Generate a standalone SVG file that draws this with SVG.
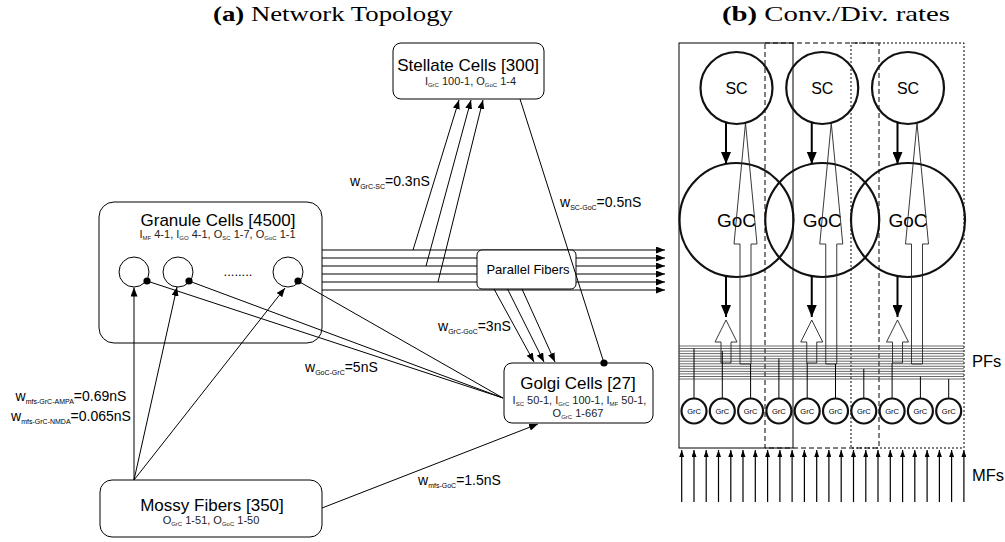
<svg xmlns="http://www.w3.org/2000/svg" width="1005" height="542" viewBox="0 0 1005 542">
  <style>
    text { font-family: "Liberation Sans", Arial, Helvetica, sans-serif; fill: #000; }
    .cap { font-family: "Liberation Serif", "Times New Roman", serif; font-size: 21px; text-anchor: middle; }
    .box { fill: #fff; stroke: #000; stroke-width: 1; }
    .ttl { font-size: 17px; text-anchor: middle; }
    .st { font-size: 11px; text-anchor: middle; fill: #222; }
    .s6 { font-size: 6px; }
    .lbl { font-size: 14px; }
    .s7 { font-size: 7px; }
    .ln { stroke: #000; stroke-width: 1; fill: none; }
    .cell { fill: none; stroke: #111; stroke-width: 2.2; }
    .grc { fill: #fff; stroke: #111; stroke-width: 2.2; }
    .ring { fill: none; stroke: #000; stroke-width: 1; }
    .frame { fill: none; stroke: #000; stroke-width: 1; }
    .pf { stroke: #444; stroke-width: 0.8; }
    .thin { fill: none; stroke: #222; stroke-width: 0.9; }
    .bold { stroke: #000; stroke-width: 2; }
    .mf { stroke: #000; stroke-width: 1.2; }
  </style>
  <defs>
    <marker id="ah" viewBox="0 0 9 7" refX="9" refY="3.5" markerWidth="9" markerHeight="7" markerUnits="userSpaceOnUse" orient="auto">
      <path d="M0,0L9,3.5L0,7z" fill="#000"/>
    </marker>
    <marker id="dot" viewBox="0 0 8 8" refX="4" refY="4" markerWidth="8" markerHeight="8" markerUnits="userSpaceOnUse">
      <circle cx="4" cy="4" r="3.6" fill="#000"/>
    </marker>
    <marker id="hb" viewBox="0 0 12 10" refX="12" refY="5" markerWidth="12" markerHeight="10" markerUnits="userSpaceOnUse" orient="auto">
      <path d="M0,0L12,5L0,10z" fill="#000"/>
    </marker>
    <marker id="hs" viewBox="0 0 7 5" refX="7" refY="2.5" markerWidth="7" markerHeight="5" markerUnits="userSpaceOnUse" orient="auto">
      <path d="M0,0L7,2.5L0,5z" fill="#000"/>
    </marker>
  </defs>

  <!-- captions -->
  <text class="cap" x="333" y="21" textLength="240" lengthAdjust="spacingAndGlyphs"><tspan font-weight="bold">(a)</tspan> Network Topology</text>
  <text class="cap" x="836" y="21" textLength="228" lengthAdjust="spacingAndGlyphs"><tspan font-weight="bold">(b)</tspan> Conv./Div. rates</text>

  <!-- ===== (a) network topology ===== -->
  <g id="stellate-cells">
    <rect class="box" x="393" y="43" width="151" height="56" rx="8"/>
    <text class="ttl" x="468" y="70.5">Stellate Cells [300]</text>
    <text class="st" x="470.5" y="85">I<tspan class="s6" dy="2">GrC</tspan><tspan dy="-2"> 100-1, O</tspan><tspan class="s6" dy="2">GoC</tspan><tspan dy="-2"> 1-4</tspan></text>
  </g>

  <g id="granule-cells">
    <rect class="box" x="99" y="202" width="223" height="141" rx="15"/>
    <text class="ttl" x="218" y="226">Granule Cells [4500]</text>
    <text class="st" x="217.5" y="238">I<tspan class="s6" dy="2">MF</tspan><tspan dy="-2"> 4-1, I</tspan><tspan class="s6" dy="2">GO</tspan><tspan dy="-2"> 4-1, O</tspan><tspan class="s6" dy="2">SC</tspan><tspan dy="-2"> 1-7, O</tspan><tspan class="s6" dy="2">GoC</tspan><tspan dy="-2"> 1-1</tspan></text>
    <circle class="ring" cx="134" cy="272" r="15"/>
    <circle class="ring" cx="178" cy="272" r="15"/>
    <circle class="ring" cx="288" cy="272" r="15"/>
    <text x="238" y="276" font-size="13" text-anchor="middle">........</text>
  </g>

  <g id="golgi-cells">
    <rect class="box" x="504" y="363" width="149" height="60" rx="8"/>
    <text class="ttl" x="578" y="389">Golgi Cells [27]</text>
    <text class="st" x="579.5" y="404">I<tspan class="s6" dy="2">SC</tspan><tspan dy="-2"> 50-1, I</tspan><tspan class="s6" dy="2">GrC</tspan><tspan dy="-2"> 100-1, I</tspan><tspan class="s6" dy="2">MF</tspan><tspan dy="-2"> 50-1,</tspan></text>
    <text class="st" x="578" y="417">O<tspan class="s6" dy="2">GrC</tspan><tspan dy="-2"> 1-667</tspan></text>
  </g>

  <g id="mossy-fibers">
    <rect class="box" x="100" y="480" width="222" height="57" rx="12"/>
    <text class="ttl" x="212" y="511">Mossy Fibers [350]</text>
    <text class="st" x="211" y="524">O<tspan class="s6" dy="2">GrC</tspan><tspan dy="-2"> 1-51, O</tspan><tspan class="s6" dy="2">GoC</tspan><tspan dy="-2"> 1-50</tspan></text>
  </g>

  <g id="parallel-fibers">
    <g class="ln" marker-end="url(#ah)">
      <line x1="322" y1="250" x2="665" y2="250"/>
      <line x1="322" y1="258" x2="665" y2="258"/>
      <line x1="322" y1="266" x2="665" y2="266"/>
      <line x1="322" y1="274" x2="665" y2="274"/>
      <line x1="322" y1="282" x2="665" y2="282"/>
      <line x1="322" y1="290" x2="665" y2="290"/>
    </g>
    <rect class="box" x="477" y="250" width="99" height="39" rx="5"/>
    <text x="528" y="273.5" font-size="13" text-anchor="middle">Parallel Fibers</text>
  </g>

  <g id="connectors">
    <!-- mossy fibres to granule cells and Golgi cells -->
    <line class="ln" x1="134" y1="480" x2="134" y2="287.5" marker-end="url(#ah)"/>
    <line class="ln" x1="134" y1="480" x2="177" y2="287" marker-end="url(#ah)"/>
    <line class="ln" x1="134" y1="480" x2="285" y2="288" marker-end="url(#ah)"/>
    <line class="ln" x1="322" y1="508" x2="538" y2="424" marker-end="url(#ah)"/>
    <!-- Golgi inhibition of granule cells -->
    <line class="ln" x1="503" y1="398" x2="147" y2="281" marker-end="url(#dot)"/>
    <line class="ln" x1="503" y1="398" x2="189" y2="281" marker-end="url(#dot)"/>
    <line class="ln" x1="503" y1="398" x2="298" y2="281" marker-end="url(#dot)"/>
    <!-- parallel fibres to stellate cells -->
    <line class="ln" x1="413" y1="250" x2="459" y2="100" marker-end="url(#ah)"/>
    <line class="ln" x1="426" y1="266" x2="471" y2="100" marker-end="url(#ah)"/>
    <line class="ln" x1="438" y1="282" x2="483" y2="100" marker-end="url(#ah)"/>
    <!-- parallel fibres to Golgi cells -->
    <line class="ln" x1="494" y1="289" x2="534" y2="362" marker-end="url(#ah)"/>
    <line class="ln" x1="507.5" y1="289" x2="544" y2="362" marker-end="url(#ah)"/>
    <line class="ln" x1="522" y1="289" x2="555" y2="362" marker-end="url(#ah)"/>
    <!-- stellate inhibition of Golgi cells -->
    <line class="ln" x1="520" y1="99" x2="604" y2="363" marker-end="url(#dot)"/>
  </g>

  <g id="weights">
    <text class="lbl" x="350" y="186">w<tspan class="s7" dy="2.5">GrC-SC</tspan><tspan dy="-2.5">=0.3nS</tspan></text>
    <text class="lbl" x="560" y="207">w<tspan class="s7" dy="2.5">SC-GoC</tspan><tspan dy="-2.5">=0.5nS</tspan></text>
    <text class="lbl" x="438" y="331">w<tspan class="s7" dy="2.5">GrC-GoC</tspan><tspan dy="-2.5">=3nS</tspan></text>
    <text class="lbl" x="305" y="372">w<tspan class="s7" dy="2.5">GoC-GrC</tspan><tspan dy="-2.5">=5nS</tspan></text>
    <text class="lbl" x="418" y="485">w<tspan class="s7" dy="2.5">mfs-GoC</tspan><tspan dy="-2.5">=1.5nS</tspan></text>
    <text class="lbl" x="71" y="401" text-anchor="middle">w<tspan class="s7" dy="2.5">mfs-GrC-AMPA</tspan><tspan dy="-2.5">=0.69nS</tspan></text>
    <text class="lbl" x="71" y="421" text-anchor="middle">w<tspan class="s7" dy="2.5">mfs-GrC-NMDA</tspan><tspan dy="-2.5">=0.065nS</tspan></text>
  </g>

  <!-- ===== (b) convergence / divergence ===== -->
  <g id="module-frames">
    <rect class="frame" x="679" y="43" width="114" height="405"/>
    <rect class="frame" x="765" y="43" width="114" height="405" stroke-dasharray="5 3"/>
    <rect class="frame" x="851" y="43" width="113" height="405" stroke-dasharray="2 2"/>
  </g>

  <g id="pf-bundle" class="pf">
    <line x1="679" y1="346" x2="964" y2="346"/>
    <line x1="679" y1="348.5" x2="964" y2="348.5"/>
    <line x1="679" y1="351.1" x2="964" y2="351.1"/>
    <line x1="679" y1="353.6" x2="964" y2="353.6"/>
    <line x1="679" y1="356.2" x2="964" y2="356.2"/>
    <line x1="679" y1="358.7" x2="964" y2="358.7"/>
    <line x1="679" y1="361.2" x2="964" y2="361.2"/>
    <line x1="679" y1="363.8" x2="964" y2="363.8"/>
    <line x1="679" y1="366.3" x2="964" y2="366.3"/>
    <line x1="679" y1="368.8" x2="964" y2="368.8"/>
    <line x1="679" y1="371.4" x2="964" y2="371.4"/>
    <line x1="679" y1="373.9" x2="964" y2="373.9"/>
    <line x1="679" y1="376.5" x2="964" y2="376.5"/>
    <line x1="679" y1="379" x2="964" y2="379"/>
  </g>
  <text x="972" y="367" font-size="16.5">PFs</text>

  <g id="sc-row">
    <g id="sc-1"><circle class="cell" cx="736.5" cy="88" r="36"/><text x="736.5" y="94" font-size="16" text-anchor="middle" fill="#222">SC</text></g>
    <g id="sc-2"><circle class="cell" cx="822.25" cy="88" r="36"/><text x="822.25" y="94" font-size="16" text-anchor="middle" fill="#222">SC</text></g>
    <g id="sc-3"><circle class="cell" cx="908" cy="88" r="36"/><text x="908" y="94" font-size="16" text-anchor="middle" fill="#222">SC</text></g>
  </g>

  <g id="goc-row">
    <g id="goc-1"><circle class="cell" cx="736.5" cy="220" r="57"/><text x="736.5" y="227" font-size="19" text-anchor="middle" fill="#333">GoC</text></g>
    <g id="goc-2"><circle class="cell" cx="822.25" cy="220" r="57"/><text x="822.25" y="227" font-size="19" text-anchor="middle" fill="#333">GoC</text></g>
    <g id="goc-3"><circle class="cell" cx="908" cy="220" r="57"/><text x="908" y="227" font-size="19" text-anchor="middle" fill="#333">GoC</text></g>
  </g>

  <g id="module-connectors">
    <!-- SC to GoC, GoC to PFs -->
    <g class="bold" marker-end="url(#hb)">
      <line x1="726" y1="122.4" x2="726" y2="164"/>
      <line x1="726" y1="276" x2="726" y2="317"/>
      <line x1="811.75" y1="122.4" x2="811.75" y2="164"/>
      <line x1="811.75" y1="276" x2="811.75" y2="317"/>
      <line x1="897.5" y1="122.4" x2="897.5" y2="164"/>
      <line x1="897.5" y1="276" x2="897.5" y2="317"/>
    </g>
    <!-- PF input to GoC (short) and to SC (tall) -->
    <g class="thin">
      <polygon points="726,320 737,342 731,342 731,363 721,363 721,342 715,342"/>
      <polygon points="811.75,320 822.75,342 816.75,342 816.75,363 806.75,363 806.75,342 800.75,342"/>
      <polygon points="897.5,320 908.5,342 902.5,342 902.5,363 892.5,363 892.5,342 886.5,342"/>
      <polygon points="745.5,123 757,244 751,244 751,364 740,364 740,244 734,244"/>
      <polygon points="831.25,123 842.75,244 836.75,244 836.75,364 825.75,364 825.75,244 819.75,244"/>
      <polygon points="917,123 928.5,244 922.5,244 922.5,364 911.5,364 911.5,244 905.5,244"/>
    </g>
    <!-- GrC ascending axons -->
    <g class="ln">
      <line x1="694" y1="398.5" x2="694" y2="348.5"/>
      <line x1="722.3" y1="398.5" x2="722.3" y2="351.1"/>
      <line x1="750.6" y1="398.5" x2="750.6" y2="364"/>
      <line x1="778.9" y1="398.5" x2="778.9" y2="358.7"/>
      <line x1="807.2" y1="398.5" x2="807.2" y2="363"/>
      <line x1="835.5" y1="398.5" x2="835.5" y2="364"/>
      <line x1="863.8" y1="398.5" x2="863.8" y2="368.8"/>
      <line x1="892.1" y1="398.5" x2="892.1" y2="363"/>
      <line x1="920.4" y1="398.5" x2="920.4" y2="376.5"/>
      <line x1="948.7" y1="398.5" x2="948.7" y2="379"/>
    </g>
    <!-- mossy fibre inputs -->
    <g class="mf" marker-end="url(#hs)">
      <line x1="681.7" y1="502" x2="681.7" y2="450"/>
      <line x1="694" y1="502" x2="694" y2="450"/>
      <line x1="706.2" y1="502" x2="706.2" y2="450"/>
      <line x1="718.5" y1="502" x2="718.5" y2="450"/>
      <line x1="730.8" y1="502" x2="730.8" y2="450"/>
      <line x1="743" y1="502" x2="743" y2="450"/>
      <line x1="755.3" y1="502" x2="755.3" y2="450"/>
      <line x1="767.6" y1="502" x2="767.6" y2="450"/>
      <line x1="779.9" y1="502" x2="779.9" y2="450"/>
      <line x1="792.1" y1="502" x2="792.1" y2="450"/>
      <line x1="804.4" y1="502" x2="804.4" y2="450"/>
      <line x1="816.7" y1="502" x2="816.7" y2="450"/>
      <line x1="828.9" y1="502" x2="828.9" y2="450"/>
      <line x1="841.2" y1="502" x2="841.2" y2="450"/>
      <line x1="853.5" y1="502" x2="853.5" y2="450"/>
      <line x1="865.8" y1="502" x2="865.8" y2="450"/>
      <line x1="878" y1="502" x2="878" y2="450"/>
      <line x1="890.3" y1="502" x2="890.3" y2="450"/>
      <line x1="902.6" y1="502" x2="902.6" y2="450"/>
      <line x1="914.8" y1="502" x2="914.8" y2="450"/>
      <line x1="927.1" y1="502" x2="927.1" y2="450"/>
      <line x1="939.4" y1="502" x2="939.4" y2="450"/>
      <line x1="951.6" y1="502" x2="951.6" y2="450"/>
      <line x1="963.9" y1="502" x2="963.9" y2="450"/>
    </g>
  </g>

  <g id="grc-row">
    <g id="grc-1"><circle class="grc" cx="694" cy="411" r="12.5"/><text x="694" y="414" font-size="7.5" text-anchor="middle" fill="#333">GrC</text></g>
    <g id="grc-2"><circle class="grc" cx="722.3" cy="411" r="12.5"/><text x="722.3" y="414" font-size="7.5" text-anchor="middle" fill="#333">GrC</text></g>
    <g id="grc-3"><circle class="grc" cx="750.6" cy="411" r="12.5"/><text x="750.6" y="414" font-size="7.5" text-anchor="middle" fill="#333">GrC</text></g>
    <g id="grc-4"><circle class="grc" cx="778.9" cy="411" r="12.5"/><text x="778.9" y="414" font-size="7.5" text-anchor="middle" fill="#333">GrC</text></g>
    <g id="grc-5"><circle class="grc" cx="807.2" cy="411" r="12.5"/><text x="807.2" y="414" font-size="7.5" text-anchor="middle" fill="#333">GrC</text></g>
    <g id="grc-6"><circle class="grc" cx="835.5" cy="411" r="12.5"/><text x="835.5" y="414" font-size="7.5" text-anchor="middle" fill="#333">GrC</text></g>
    <g id="grc-7"><circle class="grc" cx="863.8" cy="411" r="12.5"/><text x="863.8" y="414" font-size="7.5" text-anchor="middle" fill="#333">GrC</text></g>
    <g id="grc-8"><circle class="grc" cx="892.1" cy="411" r="12.5"/><text x="892.1" y="414" font-size="7.5" text-anchor="middle" fill="#333">GrC</text></g>
    <g id="grc-9"><circle class="grc" cx="920.4" cy="411" r="12.5"/><text x="920.4" y="414" font-size="7.5" text-anchor="middle" fill="#333">GrC</text></g>
    <g id="grc-10"><circle class="grc" cx="948.7" cy="411" r="12.5"/><text x="948.7" y="414" font-size="7.5" text-anchor="middle" fill="#333">GrC</text></g>
  </g>
  <text x="972" y="481" font-size="16.5">MFs</text>
</svg>
